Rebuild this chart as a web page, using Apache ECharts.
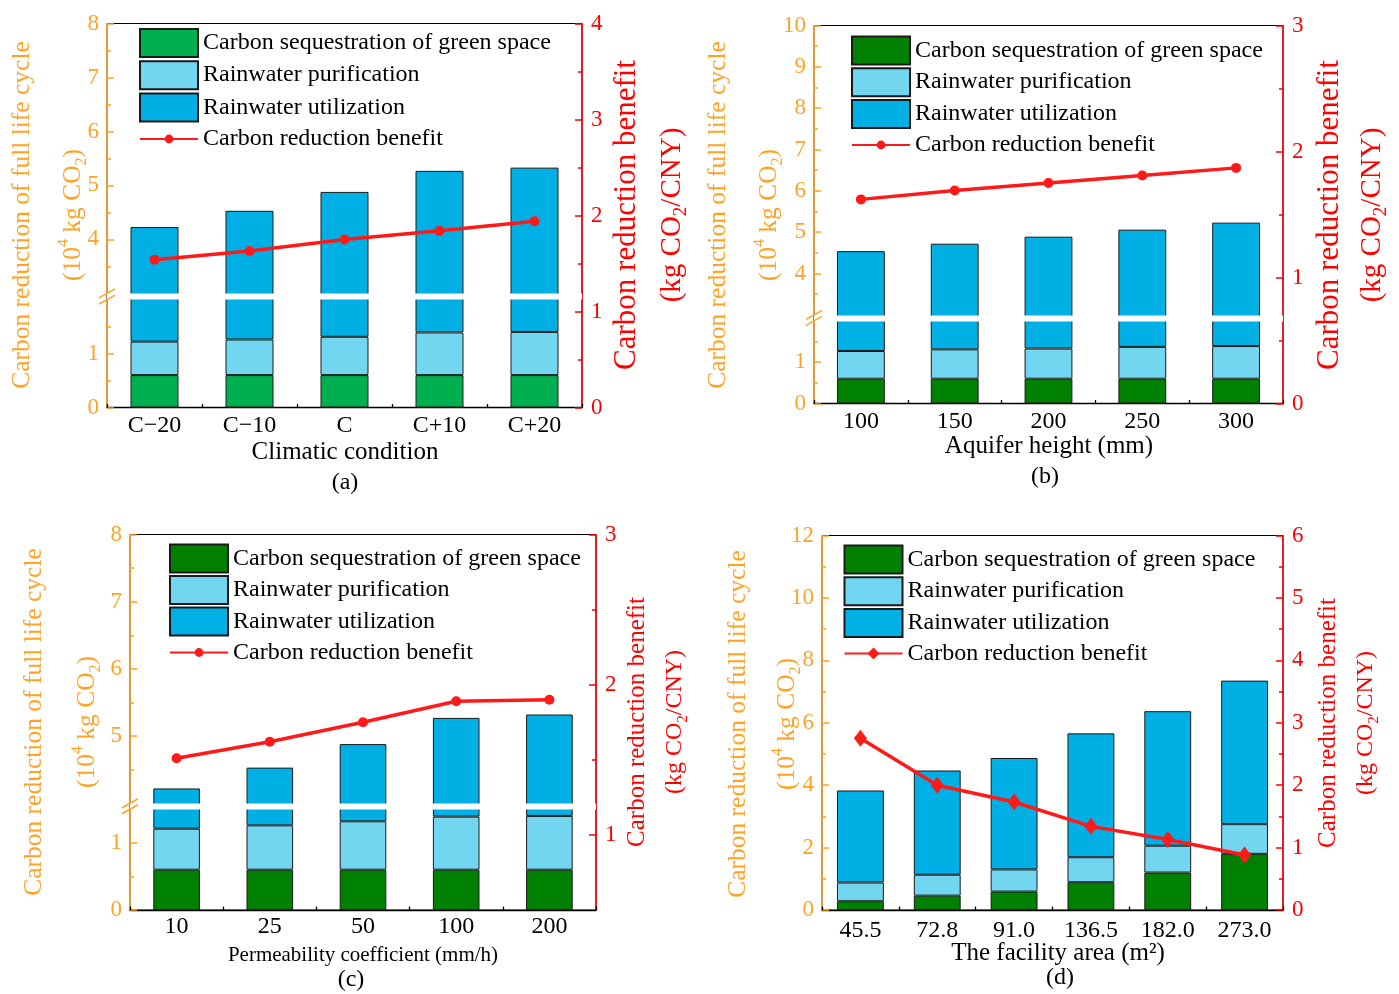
<!DOCTYPE html>
<html><head><meta charset="utf-8">
<script src="https://cdn.jsdelivr.net/npm/echarts@6/dist/echarts.min.js"></script>
<style>html,body{margin:0;padding:0;background:#fff}#c{width:1399px;height:994px}</style>
</head><body><div id="c"></div>
<script>
// ---------------- data ----------------
const seriesNames = ['Carbon sequestration of green space', 'Rainwater purification', 'Rainwater utilization', 'Carbon reduction benefit'];

const catsA = ['C\u221220', 'C\u221210', 'C', 'C+10', 'C+20'];
const greenA = [0.6, 0.6, 0.6, 0.6, 0.6];
const purifA = [0.62, 0.66, 0.71, 0.79, 0.80];
const utilA = [3.01, 3.27, 3.57, 3.88, 3.93];
const benefitA = [1.54, 1.63, 1.75, 1.84, 1.94];
const leftTicksA = [0, 1, 4, 5, 6, 7, 8];
const leftMinorA = [0.5, 1.5, 3.5, 4.5, 5.5, 6.5, 7.5];
const rightTicksA = [0, 1, 2, 3, 4];
const rightMinorA = [0.5, 1.5, 2.5, 3.5];

const catsB = ['100', '150', '200', '250', '300'];
const greenB = [0.6, 0.6, 0.6, 0.6, 0.6];
const purifB = [0.67, 0.71, 0.73, 0.77, 0.79];
const utilB = [3.27, 3.41, 3.56, 3.69, 3.84];
const benefitB = [1.62, 1.69, 1.75, 1.81, 1.87];
const leftTicksB = [0, 1, 4, 5, 6, 7, 8, 9, 10];
const leftMinorB = [0.5, 1.5, 3.5, 4.5, 5.5, 6.5, 7.5, 8.5, 9.5];
const rightTicksB = [0, 1, 2, 3];
const rightMinorB = [0.5, 1.5, 2.5];

const catsC = ['10', '25', '50', '100', '200'];
const greenC = [0.6, 0.6, 0.6, 0.6, 0.6];
const purifC = [0.61, 0.66, 0.72, 0.79, 0.80];
const utilC = [3.01, 3.27, 3.56, 3.88, 3.92];
const benefitC = [1.51, 1.62, 1.75, 1.89, 1.90];
const leftTicksC = [0, 1, 5, 6, 7, 8];
const leftMinorC = [0.5, 4.5, 5.5, 6.5, 7.5];
const rightTicksC = [1, 2, 3];
const rightMinorC = [1.5, 2.5];

const catsD = ['45.5', '72.8', '91.0', '136.5', '182.0', '273.0'];
const greenD = [0.28, 0.46, 0.59, 0.89, 1.20, 1.80];
const purifD = [0.60, 0.67, 0.71, 0.80, 0.86, 0.95];
const utilD = [2.95, 3.34, 3.57, 3.97, 4.31, 4.60];
const benefitD = [2.75, 2.00, 1.73, 1.34, 1.13, 0.88];
const leftTicksD = [0, 2, 4, 6, 8, 10, 12];
const leftMinorD = [1, 3, 5, 7, 9, 11];
const rightTicksD = [0, 1, 2, 3, 4, 5, 6];
const rightMinorD = [0.5, 1.5, 2.5, 3.5, 4.5, 5.5];

// ---------------- styling / layout ----------------
const FONT = 'Liberation Serif';
const ORANGE = '#ffa326';
const RED = '#ff0000';
const LINE = '#ff1a1a';
const LIGHT = '#72d6f0';
const BLUE = '#00b0e4';

const panels = [
  { id: 'a', grid: { left: 107, top: 23.5, width: 475, height: 384 }, cats: catsA, green: greenA, purif: purifA, util: utilA, benefit: benefitA,
    greenColor: '#00b050', barWidth: '50.5%', labelMargin: 6,
    left: { min: 0, max: 8, ticks: leftTicksA, minor: leftMinorA, brk: [2, 3] },
    right: { min: 0, max: 4, ticks: rightTicksA, minor: rightMinorA },
    symbol: 'circle', legendSym: 11,
    legend: { left: 139, top: 28, gap: 2.2, lineTop: 127 },
    title: { text: '(a)', x: 345, y: 483 }, xname: { text: 'Climatic condition', x: 345, y: 452, size: 25 },
    lname: { x1: 22, x2: 73, y: 215, size: 25.5 }, rname: { x1: 627, x2: 672, y: 215, size: 31, size2: 29 } },
  { id: 'b', grid: { left: 814, top: 25.5, width: 469, height: 378 }, cats: catsB, green: greenB, purif: purifB, util: utilB, benefit: benefitB,
    greenColor: '#008000', barWidth: '51%', labelMargin: 6,
    left: { min: 0, max: 10, ticks: leftTicksB, minor: leftMinorB, brk: [2, 3] },
    right: { min: 0, max: 3, ticks: rightTicksB, minor: rightMinorB },
    symbol: 'circle', legendSym: 11,
    legend: { left: 851, top: 35.5, gap: 1.7, lineTop: 133 },
    title: { text: '(b)', x: 1045, y: 477 }, xname: { text: 'Aquifer height (mm)', x: 1049, y: 446, size: 25 },
    lname: { x1: 718, x2: 769, y: 215, size: 25.5 }, rname: { x1: 1330, x2: 1372, y: 215, size: 31, size2: 29 } },
  { id: 'c', grid: { left: 130, top: 534.5, width: 466, height: 375.5 }, cats: catsC, green: greenC, purif: purifC, util: utilC, benefit: benefitC,
    greenColor: '#008000', barWidth: '50%', labelMargin: 5,
    left: { min: 0, max: 8, ticks: leftTicksC, minor: leftMinorC, brk: [1.5, 4] },
    right: { min: 0.5, max: 3, ticks: rightTicksC, minor: rightMinorC },
    symbol: 'circle', legendSym: 11,
    legend: { left: 169, top: 543.5, gap: 1.5, lineTop: 640.5 },
    title: { text: '(c)', x: 351, y: 980 }, xname: { text: 'Permeability coefficient (mm/h)', x: 363, y: 955, size: 21 },
    lname: { x1: 34, x2: 87, y: 722, size: 25.5 }, rname: { x1: 637, x2: 675, y: 722, size: 25, size2: 24 } },
  { id: 'd', grid: { left: 822, top: 535.5, width: 461, height: 374.5 }, cats: catsD, green: greenD, purif: purifD, util: utilD, benefit: benefitD,
    greenColor: '#008000', barWidth: '61%', labelMargin: 9,
    left: { min: 0, max: 12, ticks: leftTicksD, minor: leftMinorD },
    right: { min: 0, max: 6, ticks: rightTicksD, minor: rightMinorD },
    symbol: 'diamond', legendSym: 15,
    legend: { left: 843.5, top: 544.5, gap: 1.7, lineTop: 641.5 },
    title: { text: '(d)', x: 1060, y: 978 }, xname: { text: 'The facility area (m\u00B2)', x: 1058, y: 953, size: 25 },
    lname: { x1: 738, x2: 787, y: 724, size: 25.5 }, rname: { x1: 1328, x2: 1366, y: 723, size: 25, size2: 24 } }
];

const option = { animation: false, backgroundColor: '#fff', grid: [], xAxis: [], yAxis: [], series: [], legend: [], graphic: [] };

function tickStyle(color) { return { color: color, width: 1.5 }; }

function valueAxes(i, side, cfg, color, margin) {
  const main = { type: 'value', gridIndex: i, position: side, min: cfg.min, max: cfg.max,
    axisLine: { show: true, onZero: false, lineStyle: { color: color, width: 1.5 } },
    axisTick: { show: true, inside: true, length: 7, customValues: cfg.ticks, lineStyle: tickStyle(color) },
    minorTick: { show: false },
    axisLabel: { color: color, fontFamily: FONT, fontSize: 23, margin: margin, customValues: cfg.ticks },
    splitLine: { show: false }, minorSplitLine: { show: false } };
  const minor = { type: 'value', gridIndex: i, position: side, min: cfg.min, max: cfg.max,
    axisLine: { show: false }, axisLabel: { show: false }, splitLine: { show: false }, minorTick: { show: false },
    axisTick: { show: true, inside: true, length: 4, customValues: cfg.minor, lineStyle: tickStyle(color) } };
  if (cfg.brk) {
    main.breaks = [{ start: cfg.brk[0], end: cfg.brk[1], gap: '1.6%' }];
    main.breakArea = { show: true, expandOnClick: false, zigzagAmplitude: 0, zigzagZ: 100,
      itemStyle: { color: '#fff', borderColor: '#fff', borderWidth: 0, opacity: 1 } };
    minor.breaks = [{ start: cfg.brk[0], end: cfg.brk[1], gap: '1.6%' }];
    minor.breakArea = { show: false };
  }
  return [main, minor];
}

panels.forEach((p, i) => {
  option.grid.push({ left: p.grid.left, top: p.grid.top, width: p.grid.width, height: p.grid.height,
    show: true, borderColor: '#000', borderWidth: 1, backgroundColor: 'transparent', containLabel: false, outerBoundsMode: 'none' });

  const xi = option.xAxis.length;
  option.xAxis.push({ type: 'category', gridIndex: i, data: p.cats, position: 'bottom',
    axisLine: { show: true, onZero: false, lineStyle: { color: '#000', width: 1.3 } },
    axisTick: { show: true, inside: true, alignWithLabel: true, length: 7, lineStyle: { color: '#000', width: 1.3 } },
    axisLabel: { margin: p.labelMargin, color: '#000', fontFamily: FONT, fontSize: 24 },
    splitLine: { show: false } });
  option.xAxis.push({ type: 'category', gridIndex: i, data: p.cats, position: 'bottom',
    axisLine: { show: false }, axisTick: { show: true, inside: true, length: 3.5, lineStyle: { color: '#000', width: 1.3 } },
    axisLabel: { show: false }, splitLine: { show: false } });

  p.yl = option.yAxis.length;
  option.yAxis.push(...valueAxes(i, 'left', p.left, ORANGE, 8));
  const yr = option.yAxis.length;
  option.yAxis.push(...valueAxes(i, 'right', p.right, RED, 9));

  const nm = seriesNames.map(n => p.id + '|' + n);
  const barStyle = c => ({ color: c, borderColor: '#1a1a1a', borderWidth: 1 });
  option.series.push({ type: 'bar', name: nm[0], xAxisIndex: xi, yAxisIndex: p.yl, stack: 'st' + p.id, data: p.green, barWidth: p.barWidth, itemStyle: barStyle(p.greenColor) });
  option.series.push({ type: 'bar', name: nm[1], xAxisIndex: xi, yAxisIndex: p.yl, stack: 'st' + p.id, data: p.purif, barWidth: p.barWidth, itemStyle: barStyle(LIGHT) });
  option.series.push({ type: 'bar', name: nm[2], xAxisIndex: xi, yAxisIndex: p.yl, stack: 'st' + p.id, data: p.util, barWidth: p.barWidth, itemStyle: barStyle(BLUE) });
  option.series.push({ type: 'line', name: nm[3], xAxisIndex: xi, yAxisIndex: yr, data: p.benefit, symbol: p.symbol,
    symbolSize: p.symbol === 'diamond' ? [13, 17] : 10,
    lineStyle: { color: LINE, width: 3.5 }, itemStyle: { color: LINE }, z: 5 });

  const txt = { fontFamily: FONT, fontSize: 24, color: '#000', lineHeight: 24 };
  option.legend.push({ orient: 'vertical', left: p.legend.left, top: p.legend.top, itemWidth: 58, itemHeight: 28, itemGap: p.legend.gap,
    selectedMode: false, padding: 0,
    data: [{ name: nm[0], icon: 'rect' }, { name: nm[1], icon: 'rect' }, { name: nm[2], icon: 'rect' }],
    formatter: n => n.split('|')[1], textStyle: txt });
  option.legend.push({ orient: 'vertical', left: p.legend.left, top: p.legend.lineTop, itemWidth: 58, itemHeight: p.legendSym,
    selectedMode: false, padding: 0,
    data: [{ name: nm[3] }],
    formatter: n => n.split('|')[1], textStyle: txt });

  // texts
  option.graphic.push({ type: 'text', id: 't' + p.id, x: p.title.x, y: p.title.y, z: 300,
    style: { text: p.title.text, fontFamily: FONT, fontSize: 24, fill: '#000', align: 'center', verticalAlign: 'middle' } });
  option.graphic.push({ type: 'text', id: 'xn' + p.id, x: p.xname.x, y: p.xname.y, z: 300,
    style: { text: p.xname.text, fontFamily: FONT, fontSize: p.xname.size, fill: '#000', align: 'center', verticalAlign: 'middle' } });
  option.graphic.push({ type: 'text', id: 'ln1' + p.id, x: p.lname.x1, y: p.lname.y, rotation: Math.PI / 2, z: 300,
    style: { text: 'Carbon reduction of full life cycle', fontFamily: FONT, fontSize: p.lname.size, fill: ORANGE, align: 'center', verticalAlign: 'middle' } });
  const ls = p.lname.size, ss = Math.round(ls * 0.64);
  option.graphic.push({ type: 'text', id: 'ln2' + p.id, x: p.lname.x2, y: p.lname.y, rotation: Math.PI / 2, z: 300,
    style: { text: '{b|(10}{sup|4}{b| kg CO}{sub|2}{b|)}', align: 'center', verticalAlign: 'middle',
      rich: { b: { fontFamily: FONT, fontSize: ls, fill: ORANGE, lineHeight: ls + 8 },
              sup: { fontFamily: FONT, fontSize: ss, fill: ORANGE, lineHeight: ss, verticalAlign: 'top' },
              sub: { fontFamily: FONT, fontSize: ss, fill: ORANGE, lineHeight: ss, verticalAlign: 'bottom' } } } });
  option.graphic.push({ type: 'text', id: 'rn1' + p.id, x: p.rname.x1, y: p.rname.y, rotation: Math.PI / 2, z: 300,
    style: { text: 'Carbon reduction benefit', fontFamily: FONT, fontSize: p.rname.size, fill: RED, align: 'center', verticalAlign: 'middle' } });
  const rs = p.rname.size2, rss = Math.round(rs * 0.64);
  option.graphic.push({ type: 'text', id: 'rn2' + p.id, x: p.rname.x2, y: p.rname.y, rotation: Math.PI / 2, z: 300,
    style: { text: '{b|(kg CO}{sub|2}{b|/CNY)}', align: 'center', verticalAlign: 'middle',
      rich: { b: { fontFamily: FONT, fontSize: rs, fill: RED, lineHeight: rs + 8 },
              sub: { fontFamily: FONT, fontSize: rss, fill: RED, lineHeight: rss, verticalAlign: 'bottom' } } } });
});

const chart = echarts.init(document.getElementById('c'), null, { renderer: 'canvas' });
chart.setOption(option);

// break marks "//" on the left axes, positioned via the axis scale
panels.forEach(p => {
  if (!p.left.brk) return;
  const ax = p.grid.left;
  p.left.brk.forEach((v, k) => {
    const y = chart.convertToPixel({ yAxisIndex: p.yl }, v);
    if (typeof y !== 'number' || isNaN(y)) return;
    option.graphic.push({ type: 'line', id: 'bk' + p.id + k, z: 300,
      shape: { x1: ax - 8, y1: y + 4.5, x2: ax + 8, y2: y - 4.5 },
      style: { stroke: ORANGE, lineWidth: 1.5 } });
  });
});
chart.setOption(option, true);
</script></body></html>
